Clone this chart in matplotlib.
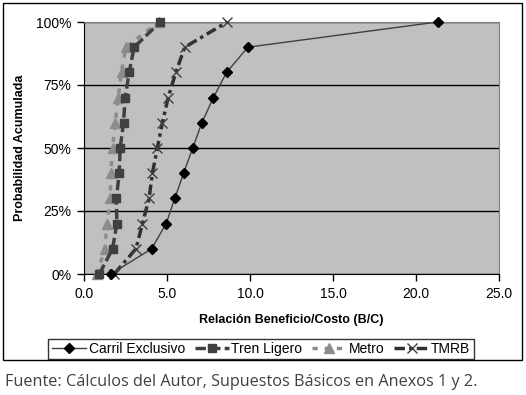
import matplotlib
matplotlib.use("Agg")
import matplotlib.pyplot as plt
from matplotlib.patches import Rectangle
from matplotlib.ticker import FuncFormatter

plt.rcParams['font.family'] = ['Liberation Sans', 'DejaVu Sans']

prob = [0, 10, 20, 30, 40, 50, 60, 70, 80, 90, 100]
carril = [1.62, 4.07, 4.95, 5.47, 6.0, 6.55, 7.1, 7.79, 8.59, 9.87, 21.3]
tren = [0.92, 1.72, 1.98, 1.95, 2.12, 2.18, 2.38, 2.48, 2.72, 3.02, 4.59]
metro = [0.78, 1.26, 1.38, 1.58, 1.62, 1.72, 1.88, 2.06, 2.26, 2.52, 4.5]
tmrb = [1.82, 3.13, 3.52, 3.92, 4.12, 4.42, 4.72, 5.07, 5.53, 6.07, 8.63]

fig = plt.figure(figsize=(5.26, 3.95), dpi=100)
ax = fig.add_axes([84/526, 121/395, 415/526, 252/395])
ax.set_facecolor('#c0c0c0')

ax.plot(carril, prob, color='#404040', lw=1, marker='D', ms=5.5,
        mfc='black', mec='black', label='Carril Exclusivo', clip_on=False, zorder=5)
ax.plot(tren, prob, color='#404040', lw=2.5, ls=(0, (3, 1.2)), marker='s', ms=6,
        mfc='#404040', mec='#404040', label='Tren Ligero', clip_on=False, zorder=4)
ax.plot(metro, prob, color='#8c8c8c', lw=2.5, ls=(0, (1.5, 2)), marker='^', ms=7,
        mfc='#8c8c8c', mec='#8c8c8c', label='Metro', clip_on=False, zorder=3)
ax.plot(tmrb, prob, color='#303030', lw=2.5, ls=(0, (3, 1.2, 1, 1.2)), marker='x', ms=7,
        mew=1, mec='#404040', label='TMRB', clip_on=False, zorder=4)

ax.set_xlim(0, 25)
ax.set_ylim(0, 100)
ax.set_xticks([0, 5, 10, 15, 20, 25])
ax.set_yticks([0, 25, 50, 75, 100])
ax.xaxis.set_major_formatter(FuncFormatter(lambda v, p: f'{v:.1f}'))
ax.yaxis.set_major_formatter(FuncFormatter(lambda v, p: f'{v:.0f}%'))
ax.tick_params(labelsize=10, length=5, width=1, colors='black', pad=4)
ax.grid(axis='y', color='black', lw=1)
ax.set_axisbelow(True)
for s in ['top', 'right']:
    ax.spines[s].set_color('#808080')
for s in ['left', 'bottom']:
    ax.spines[s].set_color('black')

ax.set_xlabel('Relación Beneficio/Costo (B/C)', fontsize=9, fontweight='bold', labelpad=10)
ax.set_ylabel('Probabilidad Acumulada', fontsize=9, fontweight='bold', labelpad=7)

leg = fig.legend(loc='center', bbox_to_anchor=(261/526, (395-349)/395), ncol=4,
                 fontsize=10, frameon=True, fancybox=False, edgecolor='black',
                 handlelength=2.5, handletextpad=0.15, columnspacing=0.7,
                 borderpad=0.25, borderaxespad=0)
leg.get_frame().set_linewidth(1)

fig.patches.append(Rectangle((3/526, 35/395), 519/526, 357/395, transform=fig.transFigure,
                             fill=False, edgecolor='black', lw=1))

fig.text(5/526, (395-382)/395, 'Fuente: Cálculos del Autor, Supuestos Básicos en Anexos 1 y 2.',
         fontsize=11.7, color='#404040', family=['Open Sans', 'DejaVu Sans'], va='center')

fig.savefig('out.png', dpi=100)
